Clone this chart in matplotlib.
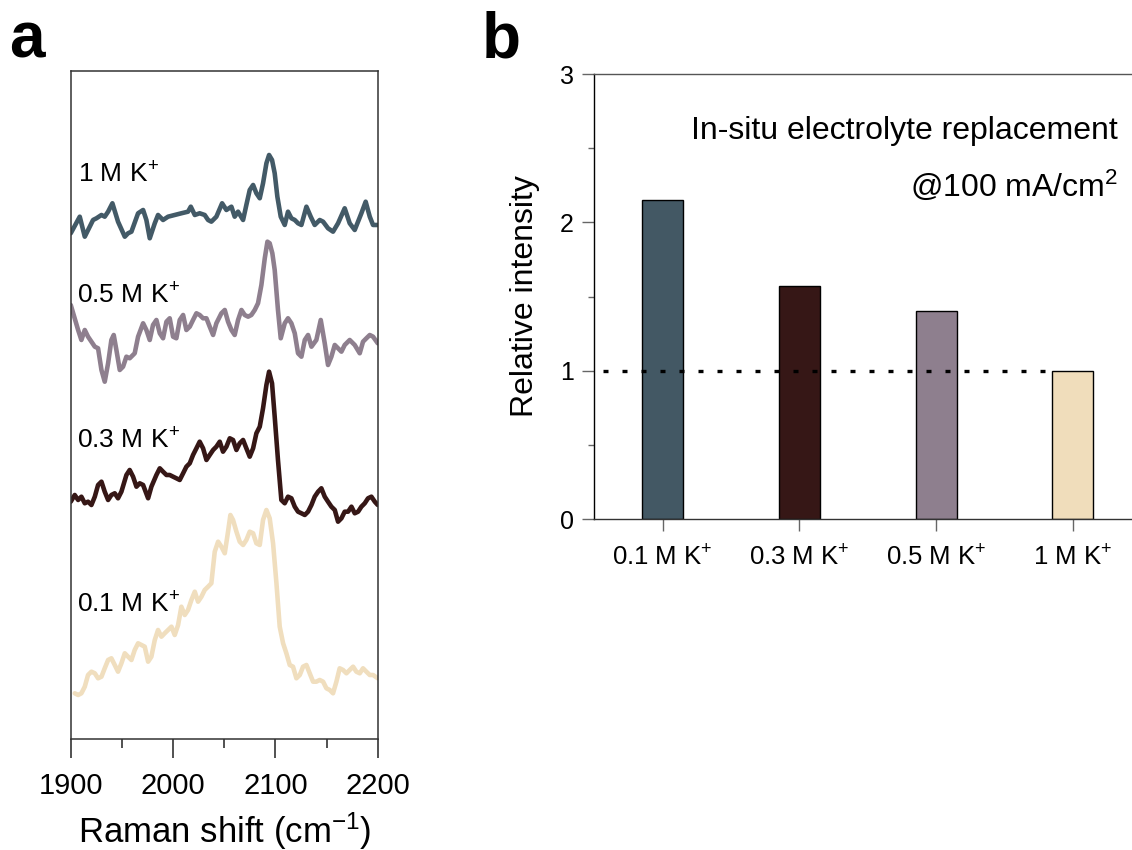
import numpy as np
import matplotlib
matplotlib.use("Agg")
import matplotlib.pyplot as plt
from matplotlib.ticker import MultipleLocator

plt.rcParams["font.family"] = ["Liberation Sans", "DejaVu Sans"]
plt.rcParams["mathtext.fontset"] = "custom"
plt.rcParams["mathtext.rm"] = "Liberation Sans"
plt.rcParams["mathtext.it"] = "Liberation Sans:italic"
plt.rcParams["mathtext.bf"] = "Liberation Sans:bold"

# ---- panel a : Raman spectra (x in cm-1, intensity in a.u.) ----
x_1m = [1900, 1908.8, 1913.7, 1921.8, 1925.1, 1930.0, 1933.2, 1936.5, 1940.7, 1946.2,
        1952.8, 1956.0, 1959.3, 1965.8, 1970.7, 1973.9, 1977.2, 1982.1, 1985.3, 1990.2,
        1995.1, 2001.6, 2008.1, 2014.6, 2017.3, 2021.2, 2026.0, 2030.9, 2034.2, 2037.4,
        2042.3, 2047.9, 2052.1, 2057.0, 2060.2, 2063.5, 2068.4, 2071.6, 2074.9, 2078.2,
        2081.4, 2084.7, 2087.9, 2091.2, 2093.8, 2096.7, 2099.3, 2101.9, 2105.2, 2109.1,
        2112.3, 2115.6, 2118.9, 2122.1, 2125.4, 2130.3, 2134.5, 2138.4, 2143.3, 2146.6,
        2151.4, 2156.3, 2161.2, 2167.7, 2172.6, 2177.5, 2184.0, 2188.2, 2192.2, 2195.4, 2200]
y_1m = [6.7, 23.3, 3.3, 20, 21.7, 25, 23.3, 28.3, 36.7, 18.3,
        3.3, 6.7, 8.3, 26.7, 30, 20, 1.7, 16.7, 25, 20,
        23.3, 25, 26.7, 28.3, 33.3, 25, 26.7, 25, 20, 18.3,
        23.3, 36.7, 30, 33.3, 23.3, 28.3, 20, 35, 50, 55,
        46.7, 41.7, 56.7, 76.7, 85, 80, 66.7, 43.3, 23.3, 15,
        28.3, 21.7, 20, 16.7, 15, 33.3, 23.3, 15, 20, 18.3,
        11.7, 8.3, 16.7, 31.7, 16.7, 10, 26.7, 38.3, 23.3, 15, 15]

x_05m = [1900, 1907.2, 1910.4, 1913.7, 1916.9, 1920.2, 1923.5, 1926.7, 1930.0, 1933.2,
         1936.5, 1939.7, 1942.0, 1944.6, 1947.9, 1951.1, 1954.4, 1957.6, 1962.5, 1965.8,
         1970.7, 1973.9, 1977.2, 1980.4, 1983.7, 1987.0, 1990.2, 1993.5, 1996.7, 2000.0,
         2003.2, 2006.5, 2009.8, 2013.0, 2016.3, 2019.5, 2022.8, 2026.0, 2029.3, 2032.6,
         2035.8, 2039.1, 2042.3, 2047.2, 2050.5, 2053.7, 2057.0, 2060.2, 2063.5, 2066.8,
         2070.0, 2073.3, 2076.5, 2079.8, 2083.0, 2086.3, 2089.6, 2092.2, 2094.4, 2097.0,
         2099.3, 2102.5, 2105.2, 2109.1, 2112.3, 2115.6, 2118.9, 2122.1, 2125.4, 2128.7,
         2131.9, 2135.2, 2140.0, 2144.3, 2148.2, 2151.4, 2154.7, 2158.0, 2161.2, 2164.5,
         2167.7, 2172.6, 2177.5, 2182.4, 2185.6, 2188.9, 2192.2, 2195.4, 2200]
y_05m = [85, 60, 50, 60, 53.3, 48.3, 43.3, 41.7, 20, 8.3,
         26.7, 50, 55, 40, 20, 23.3, 33.3, 31.7, 36.7, 53.3,
         66.7, 60, 50, 65, 70, 56.7, 51.7, 68.3, 71.7, 53.3,
         51.7, 70, 75, 60, 63.3, 70, 76.7, 75, 71.7, 71.7,
         63.3, 55, 66.7, 76.7, 80, 68.3, 60, 55, 70, 80,
         75, 73.3, 75, 80, 86.7, 105, 131.7, 148.3, 146.7, 136.7,
         120, 80, 51.7, 66.7, 71.7, 66.7, 56.7, 36.7, 33.3, 50,
         55, 43.3, 50, 70, 46.7, 25, 33.3, 45, 41.7, 38.3,
         45, 50, 45, 36.7, 48.3, 51.7, 55, 53.3, 46.7]

x_03m = [1900, 1903.9, 1907.2, 1910.4, 1913.7, 1916.9, 1920.2, 1923.5, 1926.7, 1930.0,
         1933.2, 1936.5, 1939.7, 1943.0, 1946.2, 1949.5, 1954.4, 1957.6, 1960.9, 1964.2,
         1967.4, 1970.7, 1975.6, 1978.8, 1983.7, 1987.0, 1990.2, 1993.5, 1996.7, 2000.0,
         2003.2, 2006.5, 2009.8, 2013.0, 2016.3, 2019.5, 2022.8, 2026.0, 2029.3, 2032.6,
         2035.8, 2039.1, 2042.3, 2045.6, 2048.8, 2052.1, 2055.4, 2058.6, 2061.9, 2065.1,
         2068.4, 2071.6, 2074.9, 2078.2, 2081.4, 2084.7, 2087.9, 2091.2, 2093.8, 2096.7,
         2099.3, 2102.5, 2105.8, 2109.1, 2112.3, 2115.6, 2118.9, 2122.1, 2125.4, 2128.7,
         2131.9, 2135.2, 2138.4, 2141.7, 2144.9, 2148.2, 2151.4, 2154.7, 2158.0, 2161.2,
         2164.5, 2167.7, 2171.0, 2174.3, 2177.5, 2180.8, 2184.0, 2187.3, 2190.5, 2193.8,
         2197.1, 2200]
y_03m = [28.3, 35, 30, 33.3, 26.7, 28.3, 25, 33.3, 45, 48.3,
         38.3, 30, 35, 36.7, 31.7, 38.3, 55, 60, 53.3, 43.3,
         46.7, 45, 31.7, 43.3, 55, 61.7, 58.3, 55, 55, 53.3,
         51.7, 50, 56.7, 63.3, 66.7, 75, 81.7, 88.3, 81.7, 70,
         75, 80, 83.3, 88.3, 78.3, 83.3, 91.7, 90, 80, 86.7,
         90, 81.7, 73.3, 81.7, 96.7, 103.3, 121.7, 145, 158.3, 146.7,
         113.3, 70, 30, 26.7, 33.3, 31.7, 23.3, 18.3, 16.7, 15,
         18.3, 25, 33.3, 38.3, 41.7, 33.3, 28.3, 23.3, 20, 8.3,
         11.7, 18.3, 18.3, 23.3, 16.7, 18.3, 23.3, 26.7, 31.7, 33.3,
         28.3, 25]

x_01m = [1903.9, 1907.2, 1910.4, 1913.7, 1916.9, 1920.2, 1923.5, 1926.7, 1930.0, 1933.2,
         1936.5, 1939.7, 1943.0, 1946.2, 1949.5, 1952.8, 1956.0, 1959.3, 1962.5, 1965.8,
         1969.1, 1972.3, 1975.6, 1978.8, 1982.1, 1985.3, 1988.6, 1991.8, 1995.1, 1998.4,
         2001.6, 2004.9, 2008.1, 2011.4, 2014.6, 2017.9, 2021.2, 2024.4, 2027.7, 2030.9,
         2034.2, 2037.4, 2040.7, 2044.0, 2047.2, 2050.5, 2053.7, 2056.0, 2058.6, 2061.9,
         2065.1, 2068.4, 2071.6, 2074.9, 2078.2, 2081.4, 2084.7, 2087.9, 2091.2, 2094.4,
         2097.7, 2101.0, 2104.2, 2107.5, 2110.7, 2114.0, 2117.2, 2120.5, 2123.8, 2127.0,
         2130.3, 2133.5, 2136.8, 2140.0, 2143.3, 2146.6, 2149.8, 2153.1, 2156.3, 2159.6,
         2162.8, 2166.1, 2169.4, 2172.6, 2175.9, 2179.1, 2182.4, 2185.6, 2188.9, 2192.2,
         2195.4, 2200]
y_01m = [6.7, 5, 6.7, 13.3, 25, 28.3, 26.7, 21.7, 23.3, 31.7,
         40, 41.7, 35, 28.3, 36.7, 46.7, 43.3, 40, 50, 56.7,
         55, 53.3, 38.3, 43.3, 60, 70, 63.3, 66.7, 70, 73.3,
         65, 75, 93.3, 85, 90, 100, 108.3, 98.3, 103.3, 110,
         113.3, 116.7, 148.3, 158.3, 153.3, 146.7, 168.3, 185, 180, 168.3,
         158.3, 155, 160, 168.3, 166.7, 156.7, 155, 180, 190, 181.7,
         156.7, 116.7, 73.3, 56.7, 46.7, 35, 33.3, 21.7, 25, 33.3,
         35, 26.7, 18.3, 18.3, 20, 18.3, 11.7, 10, 6.7, 18.3,
         31.7, 30, 26.7, 30, 33.3, 28.3, 26.7, 31.7, 28.3, 25,
         25, 21.7]

spec_labels = [r"1 M K$^{+}$", r"0.5 M K$^{+}$", r"0.3 M K$^{+}$", r"0.1 M K$^{+}$"]
spec_x = [x_1m, x_05m, x_03m, x_01m]
spec_y = [y_1m, y_05m, y_03m, y_01m]
spec_offsets = [499, 349, 209, 39]
spec_colors = ["#435A67", "#8E7F8E", "#361716", "#F0DEBE"]
label_pos = [(1907, 556), (1906, 435), (1906, 290), (1906, 126)]

# ---- panel b : relative intensity ----
bar_labels = [r"0.1 M K$^{+}$", r"0.3 M K$^{+}$", r"0.5 M K$^{+}$", r"1 M K$^{+}$"]
bar_values = [2.15, 1.57, 1.40, 1.00]
bar_colors = ["#435864", "#361716", "#8E7F8E", "#F0DDBB"]

fig = plt.figure(figsize=(11.32, 8.5), dpi=100)

# panel a
ax1 = fig.add_axes([0.0625, 0.1306, 0.2712, 0.7859])
for xs, ys, off, c in zip(spec_x, spec_y, spec_offsets, spec_colors):
    ax1.plot(xs, np.array(ys) + off, color=c, lw=3.3, solid_joinstyle="round",
             solid_capstyle="round")
for (tx, ty), lab in zip(label_pos, spec_labels):
    ax1.text(tx, ty, lab, fontsize=19, va="baseline", ha="left")
ax1.set_xlim(1900, 2200)
ax1.set_ylim(0, 668)
ax1.set_yticks([])
ax1.xaxis.set_major_locator(MultipleLocator(100))
ax1.xaxis.set_minor_locator(MultipleLocator(50))
ax1.tick_params(axis="x", which="major", direction="out", length=13.5, width=1.1,
                labelsize=21, pad=10, color="#222222")
ax1.tick_params(axis="x", which="minor", direction="out", length=6.5, width=1.1,
                color="#222222")
for s in ax1.spines.values():
    s.set_linewidth(1.1)
    s.set_color("#333333")
ax1.set_xlabel(r"Raman shift (cm$^{-1}$)", fontsize=25, labelpad=8)

# panel b
ax2 = fig.add_axes([0.525, 0.3894, 0.4832, 0.5235])
xpos = np.arange(len(bar_values))
ax2.bar(xpos, bar_values, width=0.3, color=bar_colors, edgecolor="black", linewidth=1)
ax2.plot([-0.435, 2.795], [1, 1], color="black", lw=2.4, linestyle=(0, (1.5, 4.2)))
ax2.set_xlim(-0.5, 3.5)
ax2.set_ylim(0, 3)
ax2.set_xticks(xpos)
ax2.set_xticklabels(bar_labels)
ax2.yaxis.set_major_locator(MultipleLocator(1))
ax2.yaxis.set_minor_locator(MultipleLocator(0.5))
ax2.tick_params(axis="y", which="major", direction="out", length=8.6, width=1,
                labelsize=18, pad=6, color="#666666")
ax2.tick_params(axis="y", which="minor", direction="out", length=4.3, width=1,
                color="#666666")
ax2.tick_params(axis="x", which="major", direction="out", length=8.6, width=1,
                labelsize=18.5, pad=10, color="#666666")
ax2.spines["right"].set_visible(False)
ax2.spines["left"].set_color("black")
ax2.spines["top"].set_color("#555555")
ax2.spines["bottom"].set_color("#333333")
for s in ax2.spines.values():
    s.set_linewidth(1)
ax2.set_ylabel("Relative intensity", fontsize=23)
ax2.yaxis.set_label_coords(-0.099, 0.5)
ax2.text(0.957, 0.8726, "In-situ electrolyte replacement", transform=ax2.transAxes,
         fontsize=23, ha="right", va="center")
ax2.text(0.957, 0.75, r"@100 mA/cm$^{2}$", transform=ax2.transAxes,
         fontsize=23, ha="right", va="center")

fig.text(0.008, 0.932, "a", fontsize=46, fontweight="bold", va="baseline")
fig.text(0.426, 0.932, "b", fontsize=46, fontweight="bold", va="baseline")

fig.savefig("out.png", dpi=100)
